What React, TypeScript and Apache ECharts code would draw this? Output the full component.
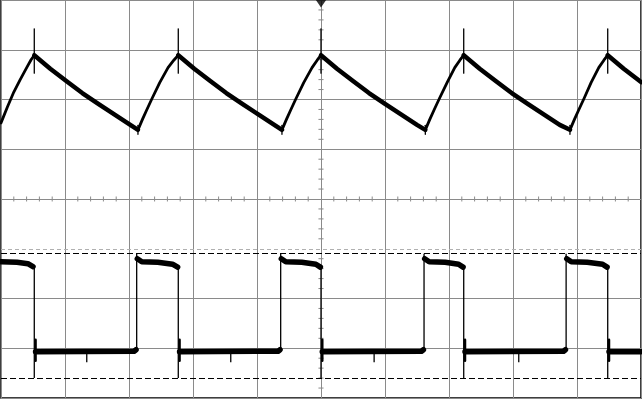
import React, { useEffect, useRef } from "react";
import * as echarts from "echarts";

// Time axis in divisions (0..10), amplitude in divisions (0..8, bottom = 0)
const xDivisions = [0, 10];
const yDivisions = [0, 8];

const sawTrace: number[][] = [
  [0, 5.53], [0.1, 5.85], [0.2, 6.15], [0.3, 6.4], [0.41, 6.66], [0.47, 6.8], [0.52, 6.89],
  [0.77, 6.62], [1.02, 6.37], [1.27, 6.13], [1.52, 5.91], [1.77, 5.70], [2.02, 5.49], [2.14, 5.39],
  [2.21, 5.6], [2.28, 5.8], [2.36, 6.02], [2.48, 6.34], [2.61, 6.64], [2.70, 6.79], [2.77, 6.89],
  [3.02, 6.62], [3.27, 6.37], [3.52, 6.13], [3.77, 5.91], [4.02, 5.70], [4.27, 5.49], [4.39, 5.39],
  [4.46, 5.6], [4.53, 5.8], [4.61, 6.02], [4.73, 6.34], [4.86, 6.64], [4.94, 6.79], [5.00, 6.89],
  [5.25, 6.62], [5.50, 6.37], [5.75, 6.13], [6.00, 5.91], [6.25, 5.70], [6.50, 5.49], [6.63, 5.39],
  [6.70, 5.6], [6.77, 5.8], [6.85, 6.02], [6.97, 6.34], [7.09, 6.64], [7.17, 6.79], [7.23, 6.89],
  [7.48, 6.62], [7.73, 6.37], [7.98, 6.13], [8.23, 5.91], [8.48, 5.70], [8.73, 5.49], [8.89, 5.39],
  [8.96, 5.6], [9.03, 5.8], [9.11, 6.02], [9.22, 6.34], [9.34, 6.64], [9.42, 6.79], [9.48, 6.89],
  [9.73, 6.62], [9.98, 6.37], [10, 6.35],
];
const sawPeakX = [0.52, 2.77, 5.0, 7.23, 9.48];
const sawSpike = [6.53, 7.42];
const sawMinX = [2.14, 4.39, 6.63, 8.89];
const sawMinSpike = [5.3, 5.48];

// Channel 2 – square wave
const sqHighLevels: number[][][] = [
  [[0, 2.74], [0.25, 2.73], [0.42, 2.70], [0.50, 2.64]],
  [[2.13, 2.80], [2.2, 2.74], [2.45, 2.73], [2.68, 2.69], [2.76, 2.63]],
  [[4.38, 2.80], [4.45, 2.74], [4.70, 2.73], [4.92, 2.69], [4.99, 2.63]],
  [[6.62, 2.80], [6.69, 2.74], [6.94, 2.73], [7.15, 2.69], [7.22, 2.63]],
  [[8.84, 2.80], [8.91, 2.74], [9.16, 2.73], [9.40, 2.69], [9.47, 2.63]],
];
const sqLowLevels: number[][][] = [
  [[0.54, 0.93], [2.08, 0.94], [2.11, 0.97]],
  [[2.79, 0.93], [4.33, 0.94], [4.36, 0.97]],
  [[5.02, 0.93], [6.57, 0.94], [6.60, 0.97]],
  [[7.25, 0.93], [8.79, 0.94], [8.82, 0.97]],
  [[9.50, 0.93], [10, 0.93]],
];
const sqFallX = [0.52, 2.77, 5.0, 7.23, 9.48];
const sqFallSpan = [0.4, 2.64];
const sqRiseX = [2.12, 4.37, 6.61, 8.83];
const sqRiseSpan = [0.95, 2.9];
const sqFallBump = [0.75, 1.17];
const sqGlitchX = [1.34, 3.59, 5.83, 8.09];
const sqGlitchSpan = [0.72, 0.93];

// Cursor / reference levels
const dashedLevels = [2.91, 0.4];
const centerX = 5;
const centerY = 4;
const triggerPos = [5, 7.93];

export default function App() {
  const ref = useRef<HTMLDivElement>(null);
  useEffect(() => {
    if (!ref.current) return;
    const chart = echarts.init(ref.current, undefined, { renderer: "svg" });

    const seg = (x: number, span: number[]) => ({ coords: [[x, span[0]], [x, span[1]]] });

    // split the sawtooth into falling (thick) and rising (thin) stretches
    const falling: number[][][] = [];
    const rising: number[][][] = [];
    let cur: number[][] = [sawTrace[0]];
    let dir = sawTrace[1][1] >= sawTrace[0][1] ? 1 : -1;
    for (let i = 1; i < sawTrace.length; i++) {
      const d = sawTrace[i][1] >= sawTrace[i - 1][1] ? 1 : -1;
      if (d !== dir) {
        (dir > 0 ? rising : falling).push(cur);
        cur = [sawTrace[i - 1]];
        dir = d;
      }
      cur.push(sawTrace[i]);
    }
    (dir > 0 ? rising : falling).push(cur);

    // minor ticks on the centre cross (5 per division)
    const minorTicks: any[] = [];
    for (let i = 1; i < 50; i++) {
      if (i % 5 === 0) continue;
      const v = i / 5;
      minorTicks.push({ coords: [[v, centerY - 0.05], [v, centerY + 0.05]] });
    }
    for (let i = 1; i < 40; i++) {
      if (i % 5 === 0) continue;
      const v = i / 5;
      minorTicks.push({ coords: [[centerX - 0.04, v], [centerX + 0.04, v]] });
    }

    const gridColor = "#8a8a8a";
    const ySplitColors = [gridColor, gridColor, gridColor, "rgba(0,0,0,0)", gridColor, gridColor, gridColor, gridColor, gridColor];
    const black = (width: number) => ({ color: "#000", width, opacity: 1, join: "round" as const, cap: "round" as const });

    chart.setOption({
      animation: false,
      backgroundColor: "#ffffff",
      grid: {
        left: 1, right: 1, top: 0, bottom: 2,
        show: true, borderColor: "#000", borderWidth: 1.5,
      },
      xAxis: {
        type: "value", min: xDivisions[0], max: xDivisions[1], interval: 1,
        axisLine: { show: false }, axisTick: { show: false }, axisLabel: { show: false },
        splitLine: { show: true, lineStyle: { color: gridColor, width: 1 } },
      },
      yAxis: {
        type: "value", min: yDivisions[0], max: yDivisions[1], interval: 1,
        axisLine: { show: false }, axisTick: { show: false }, axisLabel: { show: false },
        splitLine: { show: true, lineStyle: { color: ySplitColors, width: 1 } },
      },
      series: [
        {
          type: "lines", coordinateSystem: "cartesian2d", polyline: true, silent: true,
          lineStyle: { color: gridColor, width: 1, opacity: 1 },
          data: minorTicks,
        },
        {
          type: "line", data: [], silent: true,
          markLine: {
            silent: true, symbol: "none", label: { show: false },
            lineStyle: { color: "#b0b0b0", type: [4, 3], width: 1 },
            data: [{ yAxis: 3 }],
          },
        },
        {
          type: "line", data: [], silent: true,
          markLine: {
            silent: true, symbol: "none", label: { show: false },
            lineStyle: { color: "#000", type: [6, 3], width: 1 },
            data: dashedLevels.map((v) => ({ yAxis: v })),
          },
        },
        {
          type: "lines", coordinateSystem: "cartesian2d", polyline: true, silent: true,
          lineStyle: black(4.5),
          data: falling.map((c) => ({ coords: c })),
        },
        {
          type: "lines", coordinateSystem: "cartesian2d", polyline: true, silent: true,
          lineStyle: black(2.8),
          data: rising.map((c) => ({ coords: c })),
        },
        {
          type: "lines", coordinateSystem: "cartesian2d", polyline: true, silent: true,
          lineStyle: black(1.3),
          data: [
            ...sawPeakX.map((x) => seg(x, sawSpike)),
            ...sawMinX.map((x) => seg(x, sawMinSpike)),
          ],
        },
        {
          type: "lines", coordinateSystem: "cartesian2d", polyline: true, silent: true,
          lineStyle: black(5.5),
          data: sqHighLevels.map((c) => ({ coords: c })),
        },
        {
          type: "lines", coordinateSystem: "cartesian2d", polyline: true, silent: true,
          lineStyle: black(5.5),
          data: sqLowLevels.map((c) => ({ coords: c })),
        },
        {
          type: "lines", coordinateSystem: "cartesian2d", polyline: true, silent: true,
          lineStyle: { ...black(1.3), cap: "butt" },
          data: [
            ...sqFallX.map((x) => seg(x, sqFallSpan)),
            ...sqRiseX.map((x) => seg(x, sqRiseSpan)),
            ...sqGlitchX.map((x) => seg(x, sqGlitchSpan)),
          ],
        },
        {
          type: "lines", coordinateSystem: "cartesian2d", polyline: true, silent: true,
          lineStyle: black(2.5),
          data: sqFallX.map((x) => seg(x + 0.02, sqFallBump)),
        },
        {
          type: "scatter", silent: true,
          symbol: "triangle", symbolRotate: 180, symbolSize: [11, 8],
          itemStyle: { color: "#000" },
          data: [triggerPos],
        },
      ],
    });
    return () => chart.dispose();
  }, []);

  return (
    <div
      ref={ref}
      style={{ position: "fixed", left: 0, top: 0, width: 642, height: 400, background: "#fff" }}
    />
  );
}
